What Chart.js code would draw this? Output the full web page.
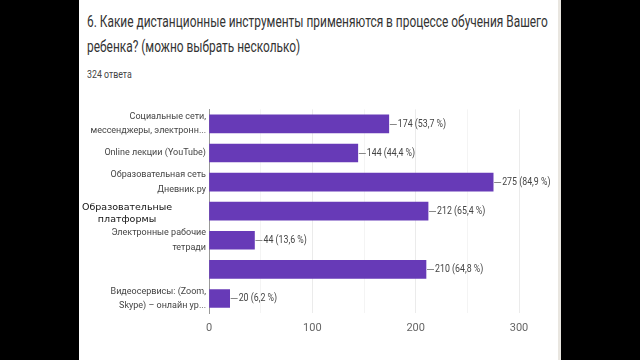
<!DOCTYPE html>
<html>
<head>
<meta charset="utf-8">
<script src="https://cdn.jsdelivr.net/npm/chart.js@4"></script>
<style>
  html, body { margin: 0; padding: 0; width: 640px; height: 360px; background: #000; overflow: hidden; }
  #page { position: absolute; left: 79px; top: 0; width: 479px; height: 360px; background: #fff; }
  #strip { position: absolute; left: 558px; top: 0; width: 3px; height: 360px; background: #e9e6e0; }
  .narrow { position: absolute; left: 8px; white-space: nowrap; transform-origin: 0 0; font-family: "Roboto", sans-serif; }
  #title1, #title2 { font-size: 17px; color: #333; transform: scaleX(0.70); }
  #title1 { top: 11px; }
  #title2 { top: 36px; }
  #count { top: 68px; font-size: 11px; color: #444; transform: scaleX(0.8); }
  #overlay { position: absolute; left: 82px; top: 201px; width: 90px; text-align: center; font-family: "DejaVu Sans", sans-serif; font-size: 9.5px; line-height: 12px; color: #111; }
  #wrap { position: absolute; left: 79px; top: 92px; width: 479px; height: 248px; }
</style>
</head>
<body>
<div id="page">
  <div id="title1" class="narrow">6. Какие дистанционные инструменты применяются в процессе обучения Вашего</div>
  <div id="title2" class="narrow">ребенка? (можно выбрать несколько)</div>
  <div id="count" class="narrow">324 ответа</div>
</div>
<div id="strip"></div>
<div id="wrap"><canvas id="chart"></canvas></div>
<div id="overlay">Образовательные платформы</div>
<script>
// Données du graphique
const categories = [
    ['Социальные сети,', 'мессенджеры, электронн...'],
    'Online лекции (YouTube)',
    ['Образовательная сеть', 'Дневник.ру'],
    '',
    ['Электронные рабочие', 'тетради'],
    '',
    ['Видеосервисы: (Zoom,', 'Skype) – онлайн ур...']
];
const answers = [174, 144, 275, 212, 44, 210, 20];
const percents = ['53,7', '44,4', '84,9', '65,4', '13,6', '64,8', '6,2'];
const xTicks = [0, 100, 200, 300];

// Étiquettes de valeur avec petit trait
const valueLabels = {
    id: 'valueLabels',
    afterDatasetsDraw(chart) {
        const ctx = chart.ctx;
        const meta = chart.getDatasetMeta(0);
        ctx.save();
        ctx.font = '11px Roboto, sans-serif';
        ctx.fillStyle = '#444';
        ctx.strokeStyle = '#888';
        ctx.lineWidth = 1;
        ctx.textBaseline = 'middle';
        meta.data.forEach((bar, i) => {
            const x = bar.x;
            const y = Math.round(bar.y) + 0.5;
            ctx.beginPath();
            ctx.moveTo(x + 1, y);
            ctx.lineTo(x + 8, y);
            ctx.stroke();
            // texte un peu condensé comme dans l'original
            ctx.save();
            ctx.translate(x + 9, y);
            ctx.scale(0.8, 1);
            ctx.fillText(answers[i] + ' (' + percents[i] + ' %)', 0, 0);
            ctx.restore();
        });
        ctx.restore();
    }
};

const ctx = document.getElementById('chart').getContext('2d');
new Chart(ctx, {
    type: 'bar',
    data: {
        labels: categories,
        datasets: [{
            data: answers,
            backgroundColor: '#673ab7',
            barThickness: 18
        }]
    },
    options: {
        indexAxis: 'y',
        responsive: true,
        maintainAspectRatio: false,
        animation: false,
        layout: { padding: { top: 8, right: 39, left: 0, bottom: 0 } },
        scales: {
            x: {
                min: 0,
                max: 300,
                afterBuildTicks: (scale) => {
                    scale.ticks = [0, 50, 100, 150, 200, 250, 300].map(v => ({ value: v }));
                },
                afterFit: (scale) => { scale.height = 27; },
                border: { display: false },
                grid: {
                    color: (c) => (c.tick && c.tick.value % 100 === 0) ? '#ebebeb' : '#f4f4f4',
                    drawTicks: false
                },
                ticks: {
                    padding: 9,
                    color: '#666',
                    font: { family: 'Roboto', size: 11 },
                    callback: (v) => xTicks.includes(v) ? String(v) : ''
                }
            },
            y: {
                afterFit: (scale) => { scale.width = 130; },
                border: { display: true, color: '#999' },
                grid: { display: false, drawTicks: false },
                ticks: {
                    autoSkip: false,
                    padding: 3,
                    color: '#444',
                    font: { family: 'Roboto', size: 9, lineHeight: 1.6 }
                }
            }
        },
        plugins: {
            legend: { display: false },
            tooltip: { enabled: false }
        }
    },
    plugins: [valueLabels]
});
</script>
</body>
</html>
